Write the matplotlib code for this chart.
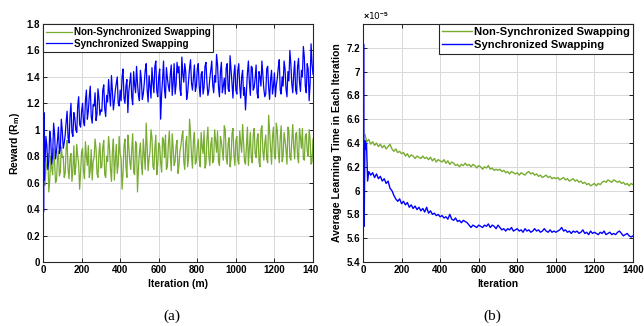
import numpy as np
import matplotlib
matplotlib.use("Agg")
import matplotlib.pyplot as plt
from matplotlib.ticker import FuncFormatter
from matplotlib.transforms import Bbox, TransformedBbox

plt.rcParams['font.family'] = ['Liberation Sans', 'DejaVu Sans']
plt.rcParams['font.weight'] = 'bold'
plt.rcParams['mathtext.fontset'] = 'custom'
plt.rcParams['mathtext.bf'] = 'Liberation Sans:bold'
plt.rcParams['mathtext.rm'] = 'Liberation Sans:bold'

# ---------------- data (a) ----------------
iter_a_sync_early = [0, 1, 3, 5, 7]
reward_sync_early = [0.55, 1.55, 0.38, 1.13, 0.62]
iter_a_main = np.arange(10, 1401, 10)
reward_sync = [
    0.72, 0.88, 0.76, 0.93, 0.80, 0.97, 0.84, 1.02, 0.86, 0.99,
    0.90, 1.06, 0.94, 1.10, 0.98, 1.13, 1.00, 1.18, 1.04, 1.14,
    1.06, 1.22, 1.08, 1.25, 1.10, 1.19, 1.28, 1.12, 1.24, 1.15,
    1.30, 1.16, 1.26, 1.38, 1.18, 1.29, 1.22, 1.35, 1.20, 1.30,
    1.40, 1.24, 1.33, 1.13, 1.36, 1.25, 1.44, 1.28, 1.35, 1.22,
    1.38, 1.27, 1.45, 1.30, 1.41, 1.24, 1.36, 1.48, 1.29, 1.40,
    1.08, 1.38, 1.30, 1.47, 1.33, 1.42, 1.26, 1.50, 1.34, 1.43,
    1.31, 1.55, 1.36, 1.44, 1.28, 1.47, 1.35, 1.40, 1.29, 1.46,
    1.33, 1.42, 1.27, 1.48, 1.36, 1.30, 1.45, 1.34, 1.41, 1.57,
    1.32, 1.44, 1.28, 1.39, 1.47, 1.31, 1.56, 1.35, 1.42, 1.30,
    1.45, 1.33, 1.40, 1.26, 1.15, 1.43, 1.36, 1.48, 1.30, 1.39,
    1.28, 1.44, 1.33, 1.41, 1.25, 1.46, 1.32, 1.38, 1.27, 1.43,
    1.34, 1.47, 1.30, 1.40, 1.52, 1.31, 1.44, 1.60, 1.35, 1.42,
    1.30, 1.48, 1.36, 1.45, 1.63, 1.33, 1.50, 1.22, 1.65, 1.42,
]
iter_a_mid = np.arange(15, 1400, 10)
reward_sync_mid = [
    0.95, 0.70, 0.99, 0.74, 1.05, 0.78, 0.92, 0.82, 1.08,
    0.86, 0.96, 1.14, 0.90, 1.20, 0.95, 1.09, 0.98, 1.25, 1.02,
    1.20, 1.03, 1.30, 1.14, 1.33, 1.05, 1.18, 1.07, 1.31, 1.11,
    1.14, 1.34, 1.10, 1.21, 1.27, 1.41, 1.15, 1.30, 1.40, 1.18,
    1.22, 1.46, 1.20, 1.38, 1.29, 1.43, 1.19, 1.34, 1.48, 1.26,
    1.45, 1.23, 1.35, 1.50, 1.21, 1.33, 1.47, 1.28, 1.52, 1.25,
    1.46, 1.27, 1.52, 1.24, 1.39, 1.29, 1.49, 1.36, 1.27, 1.51,
    1.48, 1.26, 1.42, 1.50, 1.23, 1.38, 1.53, 1.30, 1.49, 1.33,
    1.50, 1.25, 1.44, 1.32, 1.51, 1.26, 1.39, 1.52, 1.28, 1.36,
    1.49, 1.25, 1.51, 1.33, 1.27, 1.50, 1.29, 1.46, 1.24, 1.49,
    1.27, 1.50, 1.24, 1.45, 1.32, 1.29, 1.52, 1.26, 1.47, 1.32,
    1.49, 1.24, 1.40, 1.52, 1.31, 1.27, 1.48, 1.23, 1.45, 1.33,
    1.25, 1.39, 1.53, 1.27, 1.33, 1.46, 1.25, 1.37, 1.50, 1.28,
    1.52, 1.27, 1.54, 1.29, 1.40, 1.55, 1.28, 1.46, 1.35, 1.50,
]
iter_a_nonsync_early = [5]
reward_nonsync_early = [0.60]
reward_nonsync = [
    0.58, 0.74, 0.53, 0.80, 0.66, 0.77, 0.62, 0.84, 0.68, 0.79,
    0.64, 0.86, 0.70, 0.78, 0.61, 0.88, 0.72, 0.80, 0.55, 0.83,
    0.69, 0.91, 0.73, 0.64, 0.85, 0.76, 0.93, 0.67, 0.82, 0.71,
    0.87, 0.66, 0.80, 0.95, 0.70, 0.84, 0.62, 0.89, 0.74, 0.82,
    0.55, 0.88, 0.72, 0.96, 0.76, 0.85, 0.68, 0.91, 0.53, 0.83,
    0.74, 0.93, 0.70, 0.87, 0.78, 1.00, 0.72, 0.86, 0.66, 0.90,
    0.75, 0.94, 0.79, 0.70, 0.89, 0.81, 0.97, 0.73, 0.88, 0.67,
    0.84, 0.95, 0.76, 0.90, 0.72, 1.08, 0.80, 0.92, 0.74, 0.87,
    0.78, 0.98, 0.82, 0.71, 0.93, 0.80, 0.89, 0.75, 1.00, 0.83,
    0.76, 0.95, 0.84, 1.03, 0.79, 0.90, 0.72, 0.97, 0.81, 0.92,
    0.77, 0.99, 0.83, 0.91, 0.74, 1.02, 0.85, 0.79, 0.96, 0.82,
    0.93, 0.76, 1.00, 0.84, 0.90, 0.78, 1.11, 0.86, 0.95, 0.80,
    1.05, 0.83, 0.94, 0.76, 0.98, 0.85, 1.02, 0.79, 0.92, 0.87,
    0.97, 0.80, 1.01, 0.86, 0.78, 0.95, 0.84, 1.00, 0.74, 0.93,
]
reward_nonsync_mid = [
    0.70, 0.82, 0.62, 0.71, 0.86, 0.60, 0.78, 0.65, 0.87,
    0.80, 0.67, 0.92, 0.63, 0.82, 0.70, 0.66, 0.89, 0.74, 0.68,
    0.86, 0.63, 0.80, 0.88, 0.69, 0.62, 0.79, 0.86, 0.64, 0.90,
    0.72, 0.92, 0.64, 0.76, 0.86, 0.61, 0.93, 0.77, 0.67, 0.95,
    0.78, 0.68, 0.93, 0.64, 0.87, 0.70, 0.97, 0.66, 0.89, 0.71,
    0.90, 0.66, 0.82, 1.05, 0.69, 0.84, 0.94, 0.70, 0.96, 0.74,
    0.88, 0.68, 0.92, 0.96, 0.72, 0.99, 0.69, 0.86, 0.76, 0.92,
    0.73, 0.88, 0.99, 0.70, 0.95, 0.79, 0.97, 0.71, 0.98, 0.76,
    0.93, 0.72, 0.87, 0.99, 0.74, 1.02, 0.73, 0.94, 0.77, 0.91,
    0.99, 0.73, 0.91, 0.77, 1.00, 0.74, 0.94, 0.78, 1.01, 0.73,
    0.95, 0.74, 0.90, 1.04, 0.76, 0.88, 0.73, 0.98, 0.75, 1.01,
    0.79, 0.97, 0.72, 1.03, 0.77, 0.96, 0.75, 0.99, 0.74, 1.02,
    0.78, 0.99, 0.75, 1.03, 0.80, 0.92, 0.74, 0.99, 0.77, 1.04,
    0.78, 0.98, 0.75, 0.94, 1.01, 0.77, 0.97, 0.80, 0.93, 0.76,
]

# ---------------- data (b) (units of 1e-5) ----------------
iter_b_sync_early = [0, 3, 6, 10, 14, 18, 24]
time_sync_early = [5.40, 7.23, 5.70, 6.42, 6.35, 6.40, 6.08]
iter_b_sync_main = np.arange(30, 1401, 10)
time_sync = [
    6.16, 6.13, 6.15, 6.11, 6.14, 6.10, 6.12, 6.08,
    6.10, 6.06, 6.08, 6.02, 6.00, 5.96, 5.93, 5.91, 5.93, 5.89,
    5.91, 5.88, 5.90, 5.86, 5.88, 5.85, 5.87, 5.84, 5.86, 5.83,
    5.85, 5.82, 5.86, 5.81, 5.83, 5.80, 5.81, 5.79, 5.80, 5.78,
    5.79, 5.77, 5.78, 5.76, 5.80, 5.76, 5.75, 5.77, 5.74, 5.75,
    5.73, 5.75, 5.74, 5.73, 5.71, 5.69, 5.71, 5.70, 5.69, 5.71,
    5.70, 5.69, 5.71, 5.70, 5.72, 5.69, 5.71, 5.70, 5.68, 5.71,
    5.69, 5.67, 5.68, 5.66, 5.68, 5.67, 5.69, 5.66, 5.67, 5.68,
    5.66, 5.67, 5.65, 5.68, 5.66, 5.67, 5.65, 5.66, 5.68, 5.66,
    5.67, 5.65, 5.66, 5.68, 5.66, 5.65, 5.67, 5.65, 5.66, 5.65,
    5.66, 5.67, 5.69, 5.66, 5.67, 5.65, 5.66, 5.64, 5.66, 5.65,
    5.66, 5.64, 5.65, 5.67, 5.64, 5.65, 5.63, 5.66, 5.64, 5.65,
    5.64, 5.63, 5.65, 5.64, 5.66, 5.63, 5.64, 5.65, 5.63, 5.64,
    5.63, 5.65, 5.66, 5.64, 5.62, 5.63, 5.64, 5.62, 5.61, 5.62,
]
iter_b_nonsync = np.arange(10, 1401, 10)
time_nonsync = [
    6.47, 6.41, 6.43, 6.39, 6.41, 6.38, 6.40, 6.37, 6.39, 6.36,
    6.38, 6.35, 6.37, 6.39, 6.35, 6.33, 6.35, 6.32, 6.33, 6.31,
    6.32, 6.29, 6.31, 6.28, 6.30, 6.29, 6.27, 6.29, 6.28, 6.27,
    6.29, 6.27, 6.28, 6.26, 6.28, 6.25, 6.27, 6.24, 6.26, 6.25,
    6.24, 6.26, 6.23, 6.25, 6.22, 6.24, 6.23, 6.21, 6.22, 6.20,
    6.22, 6.21, 6.23, 6.21, 6.22, 6.20, 6.22, 6.21, 6.19, 6.21,
    6.20, 6.18, 6.20, 6.19, 6.21, 6.18, 6.19, 6.17, 6.18, 6.17,
    6.18, 6.16, 6.17, 6.15, 6.16, 6.14, 6.16, 6.15, 6.14, 6.15,
    6.13, 6.15, 6.14, 6.13, 6.15, 6.16, 6.14, 6.15, 6.13, 6.14,
    6.12, 6.13, 6.11, 6.12, 6.13, 6.11, 6.12, 6.10, 6.11, 6.10,
    6.11, 6.09, 6.10, 6.11, 6.09, 6.10, 6.08, 6.09, 6.10, 6.08,
    6.09, 6.07, 6.08, 6.06, 6.07, 6.05, 6.06, 6.04, 6.05, 6.06,
    6.04, 6.06, 6.05, 6.07, 6.08, 6.07, 6.09, 6.08, 6.07, 6.09,
    6.08, 6.07, 6.08, 6.06, 6.07, 6.05, 6.06, 6.04, 6.06, 6.05,
]

labels = ["Non-Synchronized Swapping", "Synchronized Swapping"]
xticks = [0, 200, 400, 600, 800, 1000, 1200, 1400]
yticks_a = [0, 0.2, 0.4, 0.6, 0.8, 1.0, 1.2, 1.4, 1.6, 1.8]
yticks_b = [5.4, 5.6, 5.8, 6.0, 6.2, 6.4, 6.6, 6.8, 7.0, 7.2]

GREEN = "#77AC30"
BLUE = "#0000FF"


def merged(xs, ys):
    x = np.concatenate([np.asarray(v, dtype=float) for v in xs])
    y = np.concatenate([np.asarray(v, dtype=float) for v in ys])
    order = np.argsort(x, kind="stable")
    return x[order], y[order]


fig = plt.figure(figsize=(6.44, 3.26), dpi=100)
W, H = 644, 326
ax1 = fig.add_axes([43 / W, 1 - 262 / H, 270 / W, 238 / H])
ax2 = fig.add_axes([363 / W, 1 - 262 / H, 270 / W, 238 / H])


def style(ax):
    ax.grid(True, color="#d9d9d9", linewidth=0.7)
    ax.set_axisbelow(True)
    ax.tick_params(direction="in", top=True, right=True, length=3,
                   width=0.6, labelsize=7, pad=2)
    for s in ax.spines.values():
        s.set_linewidth(0.8)
        s.set_color("#262626")
    for t in ax.get_xticklabels() + ax.get_yticklabels():
        t.set_fontweight("bold")


# (a)
x_non_a, y_non_a = merged([iter_a_nonsync_early, iter_a_main, iter_a_mid],
                          [reward_nonsync_early, reward_nonsync, reward_nonsync_mid])
x_sync_a, y_sync_a = merged([iter_a_sync_early, iter_a_main, iter_a_mid],
                            [reward_sync_early, reward_sync, reward_sync_mid])
ax1.plot(x_non_a, y_non_a, color=GREEN, lw=0.9, label=labels[0])
ax1.plot(x_sync_a, y_sync_a, color=BLUE, lw=0.9, label=labels[1])
ax1.set_xlim(0, 1400)
ax1.set_ylim(0, 1.8)
ax1.set_xticks(xticks)
ax1.set_yticks(yticks_a)
ax1.yaxis.set_major_formatter(FuncFormatter(lambda v, p: "%g" % round(v, 2)))
style(ax1)
ax1.set_xlabel("Iteration (m)", fontsize=7.5, fontweight="bold", labelpad=3)
ax1.set_ylabel(r"Reward (R$_{\mathbf{m}}$)", fontsize=7.5, fontweight="bold", labelpad=3)
leg1 = ax1.legend(loc="upper left", borderaxespad=0, fancybox=False,
                  edgecolor="#262626", framealpha=1,
                  handlelength=2.6, handletextpad=0.2, borderpad=0.3,
                  labelspacing=0.2, prop={"weight": "bold", "size": 7.1})
leg1.get_frame().set_linewidth(0.8)

# (b)
scale = 1e-5
x_sync_b, y_sync_b = merged([iter_b_sync_early, iter_b_sync_main],
                            [time_sync_early, time_sync])
ax2.plot(iter_b_nonsync, np.array(time_nonsync) * scale, color=GREEN, lw=1.0, label=labels[0])
ax2.plot(x_sync_b, y_sync_b * scale, color=BLUE, lw=1.0, label=labels[1])
ax2.set_xlim(0, 1400)
ax2.set_ylim(5.4e-5, 7.4e-5)
ax2.set_xticks(xticks)
ax2.set_yticks([v * scale for v in yticks_b])
ax2.yaxis.set_major_formatter(FuncFormatter(lambda v, p: "%g" % round(v / 1e-5, 2)))
style(ax2)
ax2.set_xlabel("Iteration", fontsize=7.5, fontweight="bold", labelpad=3)
ax2.set_ylabel("Average Learning Time in Each Iteration", fontsize=7.5,
               fontweight="bold", labelpad=3)
ax2.text(0.0, 1.01, r"$\times$10$^{-5}$", transform=ax2.transAxes,
         fontsize=6.5, fontweight="normal", ha="left", va="bottom",
         family=["DejaVu Sans"])
leg2 = ax2.legend(loc="upper right", borderaxespad=0, fancybox=False,
                  edgecolor="#262626", framealpha=1,
                  handlelength=2.6, handletextpad=0.2, borderpad=0.3,
                  labelspacing=0.25, prop={"weight": "bold", "size": 8.1})
leg2.get_frame().set_linewidth(0.8)

# clip the last x tick label of (a) like the reference crop
clipbox = TransformedBbox(Bbox([[0, 0], [318 / W, 1]]), fig.transFigure)
last = ax1.xaxis.get_major_ticks()[-1].label1
last.set_clip_on(True)
last.set_clip_box(clipbox)

fig.text(172 / W, 1 - 316 / H, "(a)", family="Liberation Serif",
         fontweight="normal", fontsize=11, ha="center", va="center")
fig.text(492 / W, 1 - 316 / H, "(b)", family="Liberation Serif",
         fontweight="normal", fontsize=11, ha="center", va="center")

fig.savefig("out.png", dpi=100)
